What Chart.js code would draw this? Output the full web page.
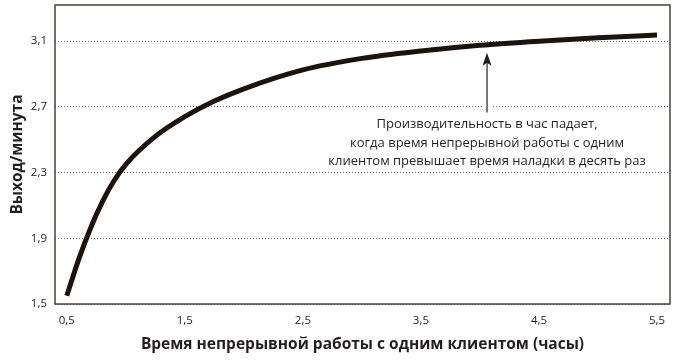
<!DOCTYPE html>
<html lang="ru">
<head>
<meta charset="utf-8">
<script src="https://cdn.jsdelivr.net/npm/chart.js@4.4.0/dist/chart.umd.min.js"></script>
<style>
  html, body { margin: 0; padding: 0; background: #fff; }
  #wrap { width: 677px; height: 362px; }
</style>
</head>
<body>
<div id="wrap"><canvas id="chart" width="677" height="362"></canvas></div>
<script>
// hours of continuous work with one client
const hours = [0.5, 0.6, 0.7, 0.8, 0.9, 1.0, 1.25, 1.5, 1.75, 2.0, 2.5, 3.0, 3.5, 4.0, 4.5, 5.0, 5.5];
// output per minute
const output = [1.55, 1.77, 1.96, 2.12, 2.25, 2.35, 2.52, 2.64, 2.735, 2.81, 2.925, 2.995, 3.04, 3.075, 3.1, 3.12, 3.137];

const xTicks = [0.5, 1.5, 2.5, 3.5, 4.5, 5.5];
const yTicks = [1.5, 1.9, 2.3, 2.7, 3.1];

const xTitle = 'Время непрерывной работы с одним клиентом (часы)';
const yTitle = 'Выход/минута';
const noteLines = [
    'Производительность в час падает,',
    'когда время непрерывной работы с одним',
    'клиентом превышает время наладки в десять раз'
];
// arrow: x position, tip value, base value
const noteX = 4.06;
const noteTip = 3.03;
const noteBase = 2.665;

const ink = '#231f20';
const fmt = v => String(v).replace('.', ',');

const frame = {
    id: 'frame',
    afterDatasetsDraw(chart) {
        const { ctx, chartArea: a, scales: { x, y } } = chart;
        ctx.save();
        ctx.strokeStyle = '#4a4236';
        ctx.lineWidth = 1.5;
        ctx.strokeRect(a.left, a.top, a.right - a.left, a.bottom - a.top);

        // arrow and note
        const ax = x.getPixelForValue(noteX);
        const tip = y.getPixelForValue(noteTip);
        const base = y.getPixelForValue(noteBase);
        ctx.fillStyle = '#fff';
        ctx.fillRect(ax - 5, y.getPixelForValue(2.7) - 2, 10, 4);
        ctx.strokeStyle = ink;
        ctx.lineWidth = 1.2;
        ctx.beginPath();
        ctx.moveTo(ax, base);
        ctx.lineTo(ax, tip + 8);
        ctx.stroke();
        ctx.fillStyle = ink;
        ctx.beginPath();
        ctx.moveTo(ax, tip);
        ctx.lineTo(ax - 4.5, tip + 13);
        ctx.lineTo(ax, tip + 10);
        ctx.lineTo(ax + 4.5, tip + 13);
        ctx.closePath();
        ctx.fill();

        ctx.font = '13px "Open Sans", sans-serif';
        ctx.textAlign = 'center';
        ctx.textBaseline = 'middle';
        noteLines.forEach((t, i) => ctx.fillText(t, ax, base + 12 + i * 18.5));
        ctx.restore();
    }
};

new Chart(document.getElementById('chart'), {
    type: 'line',
    data: {
        labels: hours,
        datasets: [{
            data: hours.map((h, i) => ({ x: h, y: output[i] })),
            borderColor: '#1c130e',
            borderWidth: 5,
            pointRadius: 0,
            fill: false,
            cubicInterpolationMode: 'monotone',
            borderCapStyle: 'butt'
        }]
    },
    options: {
        responsive: false,
        animation: false,
        layout: { padding: { top: 5, right: 7, left: 0, bottom: 0 } },
        plugins: { legend: { display: false }, tooltip: { enabled: false } },
        scales: {
            x: {
                type: 'linear',
                min: 0.4,
                max: 5.61,
                afterBuildTicks: s => { s.ticks = xTicks.map(v => ({ value: v })); },
                afterFit: s => { s.height = 58; s.paddingLeft = 0; s.paddingRight = 0; },
                grid: { display: false, drawTicks: false },
                border: { display: false },
                ticks: {
                    padding: 10,
                    color: ink,
                    font: { family: '"Open Sans", sans-serif', size: 11.5 },
                    callback: v => fmt(v)
                },
                title: {
                    display: true,
                    text: xTitle,
                    color: ink,
                    font: { family: '"Open Sans", sans-serif', size: 15.5, weight: 'bold' },
                    padding: { top: 0, bottom: 8 }
                }
            },
            y: {
                type: 'linear',
                min: 1.5,
                max: 3.32,
                afterBuildTicks: s => { s.ticks = yTicks.map(v => ({ value: v })); },
                afterFit: s => { s.width = 55; s.paddingTop = 0; s.paddingBottom = 0; },
                grid: { color: '#6a6a6a', lineWidth: 1, drawTicks: false },
                border: { display: false, dash: [1, 2] },
                ticks: {
                    padding: 8,
                    color: ink,
                    font: { family: '"Open Sans", sans-serif', size: 11.5 },
                    callback: v => fmt(v)
                },
                title: {
                    display: true,
                    text: yTitle,
                    color: ink,
                    font: { family: '"Open Sans", sans-serif', size: 15.5, weight: 'bold' },
                    padding: { top: 8, bottom: 0 }
                }
            }
        }
    },
    plugins: [frame]
});
</script>
</body>
</html>
